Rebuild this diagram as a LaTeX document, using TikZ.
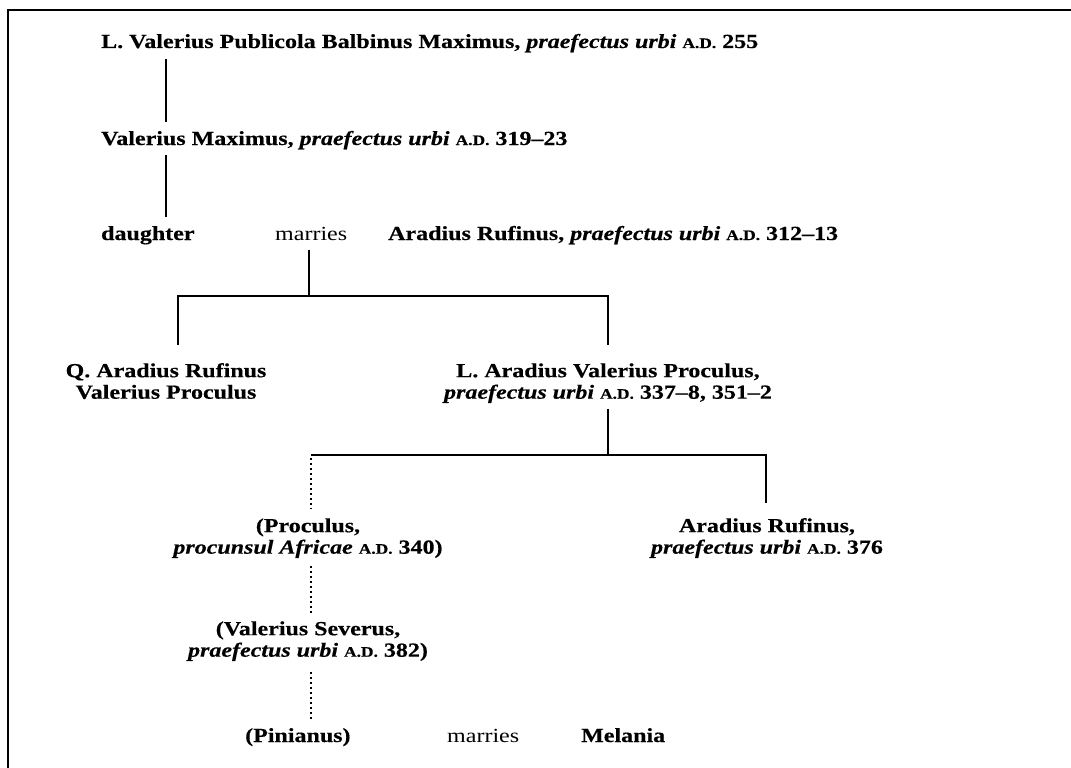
\documentclass[tikz,border=0pt]{standalone}
\usepackage{fontspec}
\setmainfont{Liberation Serif}[FakeStretch=1.2, BoldFeatures={FakeBold=0.4}, BoldItalicFeatures={FakeBold=0.4}]
\usetikzlibrary{calc}
\newcommand{\AD}{{\fontsize{14.5}{15}\selectfont A.D.}}
\newcommand{\PU}{\textit{praefectus urbi}}
\newcommand{\tops}{\rule{0pt}{15pt}}
\newcommand{\bots}{\rule[-5pt]{0pt}{5pt}}
\tikzset{
  base/.style={font=\fontsize{20}{21.5}\selectfont\bfseries, inner sep=0pt},
  one/.style={base, text height=15pt, text depth=5pt, anchor=base west},
  two/.style={base, align=center, anchor=north},
  reg/.style={font=\fontsize{20}{21.5}\selectfont\mdseries},
  ln/.style={line width=1.1pt},
  dots/.style={line width=2.2pt, dash pattern=on 1.6pt off 3.4pt},
  frame/.style={line width=1.6pt}
}
\begin{document}
\begin{tikzpicture}[x=1pt,y=-1pt]
\useasboundingbox (0,0) rectangle (1071,768);
\draw[frame] (1071,10) -- (8,10) -- (8,768);

% rows 1-3
\node[one] (t1) at (101,48) {L. Valerius Publicola Balbinus Maximus, \PU{} \AD{} 255};
\node[one] (t2) at (101,145) {Valerius Maximus, \PU{} \AD{} 319–23};
\node[one] (dau) at (101,240) {daughter};
\node[one,reg] (mar1) at (275,240) {marries};
\node[one] (ar) at (388,240) {Aradius Rufinus, \PU{} \AD{} 312–13};

% row 4
\node[two] (qar) at (166,362) {\tops Q. Aradius Rufinus\\Valerius Proculus\bots};
\node[two] (lar) at (608,362) {\tops L. Aradius Valerius Proculus,\\\PU{} \AD{} 337–8, 351–2\bots};

% row 5
\node[two] (pro) at (308,517) {\tops(Proculus,\\\textit{procunsul Africae} \AD{} 340)\bots};
\node[two] (arr) at (767,517) {\tops Aradius Rufinus,\\\PU{} \AD{} 376\bots};

% row 6
\node[two] (sev) at (308,620) {\tops(Valerius Severus,\\\PU{} \AD{} 382)\bots};

% row 7
\node[one] (pin) at (245,742) {(Pinianus)};
\node[one,reg] (mar2) at (447,742) {marries};
\node[one] (mel) at (581,742) {Melania};

% junctions
\coordinate (c1) at (166,0);
\coordinate (j1) at (309,296);
\coordinate (j1l) at (178,296);
\coordinate (j1r) at (608,296);
\coordinate (j2) at (608,455);
\coordinate (j2l) at (311,455);
\coordinate (j2r) at (766,455);

% connectors
\draw[ln, shorten <=6pt, shorten >=8pt] (t1.south -| c1) -- (t2.north -| c1);
\draw[ln, shorten <=5pt, shorten >=8pt] (t2.south -| c1) -- (dau.north -| c1);
\draw[ln, shorten <=5pt] (mar1.south -| j1) -- (j1);
\draw[ln, shorten <=17pt, shorten >=17pt] (qar.north -| j1l) -- (j1l) -- (j1r) -- (lar.north -| j1r);
\draw[ln, shorten <=5pt] (lar.south -| j2) -- (j2);
\draw[ln, shorten >=14pt] (j2l) -- (j2r) -- (arr.north -| j2r);
\draw[dots, shorten <=3pt, shorten >=8pt] (j2l) -- (pro.north -| j2l);
\draw[dots, shorten <=7pt, shorten >=5pt] (pro.south -| j2l) -- (sev.north -| j2l);
\draw[dots, shorten <=10pt, shorten >=5pt] (sev.south -| j2l) -- (pin.north -| j2l);
\end{tikzpicture}
\end{document}
